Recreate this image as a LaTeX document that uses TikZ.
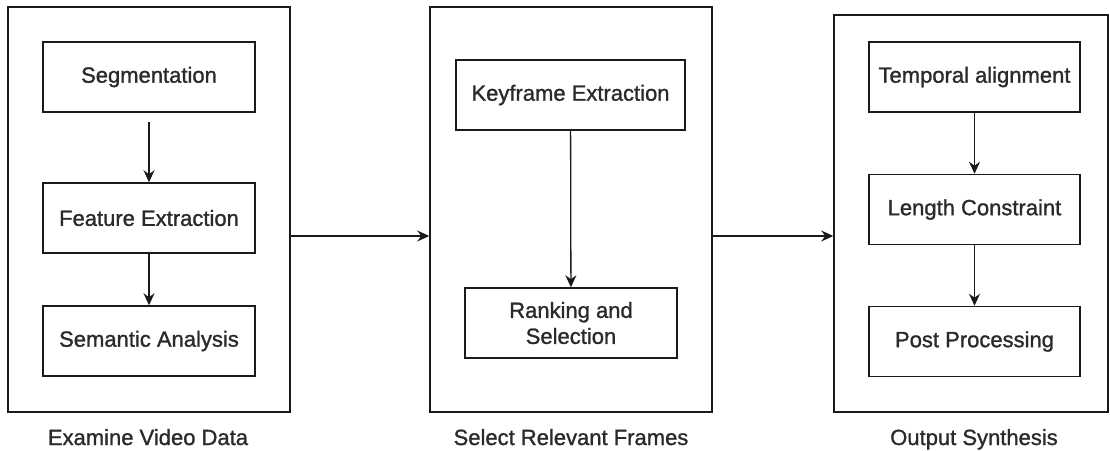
\documentclass[tikz,border=0pt]{standalone}
\usepackage{fontspec}
\setmainfont{Liberation Sans}
\newfontfamily\labfont{Liberation Sans}[FakeBold=1.2]
\usetikzlibrary{arrows.meta}
\definecolor{ink}{HTML}{2A2A2A}
\definecolor{edge}{HTML}{1A1A1A}
\begin{document}
\begin{tikzpicture}[x=1pt,y=-1pt,
  every node/.style={font=\labfont\fontsize{22}{26}\selectfont, text=ink},
  outerbox/.style={draw=edge, line width=1.5pt, rectangle, inner sep=0pt},
  stagebox/.style={draw=edge, line width=1.5pt, rectangle, inner sep=0pt, minimum height=70pt, align=center},
  caption/.style={inner sep=0pt, anchor=base},
  arr/.style={draw=edge, line width=1.3pt, -{Stealth[length=12pt,width=11pt]}}
]
\useasboundingbox (0,0) rectangle (1110,450);

% outer containers
\node[outerbox, minimum width=282pt, minimum height=405pt] (o1) at (149,209.5) {};
\node[outerbox, minimum width=282pt, minimum height=405pt] (o2) at (571,209.5) {};
\node[outerbox, minimum width=274pt, minimum height=397pt] (o3) at (971,213.5) {};

% column 1
\node[stagebox, minimum width=212pt] (seg) at (149,77) {Segmentation};
\node[stagebox, minimum width=212pt] (feat) at (149,218) {Feature Extraction};
\node[stagebox, minimum width=212pt] (sem) at (149,341) {Semantic Analysis};

% column 2
\node[stagebox, minimum width=229pt] (key) at (570.5,95) {Keyframe Extraction};
\node[stagebox, minimum width=212pt] (rank) at (571,323) {Ranking and\\Selection};

% column 3
\node[stagebox, minimum width=211pt] (temp) at (974.5,77) {Temporal alignment};
\node[stagebox, minimum width=211pt] (len) at (974.5,209.5) {Length Constraint};
\node[stagebox, minimum width=211pt] (post) at (974.5,341.5) {Post Processing};

% captions
\node[caption] (c1) at (148,445) {Examine Video Data};
\node[caption] (c2) at (571,445) {Select Relevant Frames};
\node[caption] (c3) at (974,445) {Output Synthesis};

% inner arrows
\draw[arr, shorten <=9pt] (seg) -- (feat);
\draw[arr, line width=2.2pt] (feat) -- (sem);
\draw[arr] (key) -- (rank);
\draw[arr] (temp) -- (len);
\draw[arr] (len) -- (post);

% stage arrows
\coordinate (h) at (0,236);
\draw[arr] (o1.east |- h) -- (o2.west |- h);
\draw[arr] (o2.east |- h) -- (o3.west |- h);
\end{tikzpicture}
\end{document}
